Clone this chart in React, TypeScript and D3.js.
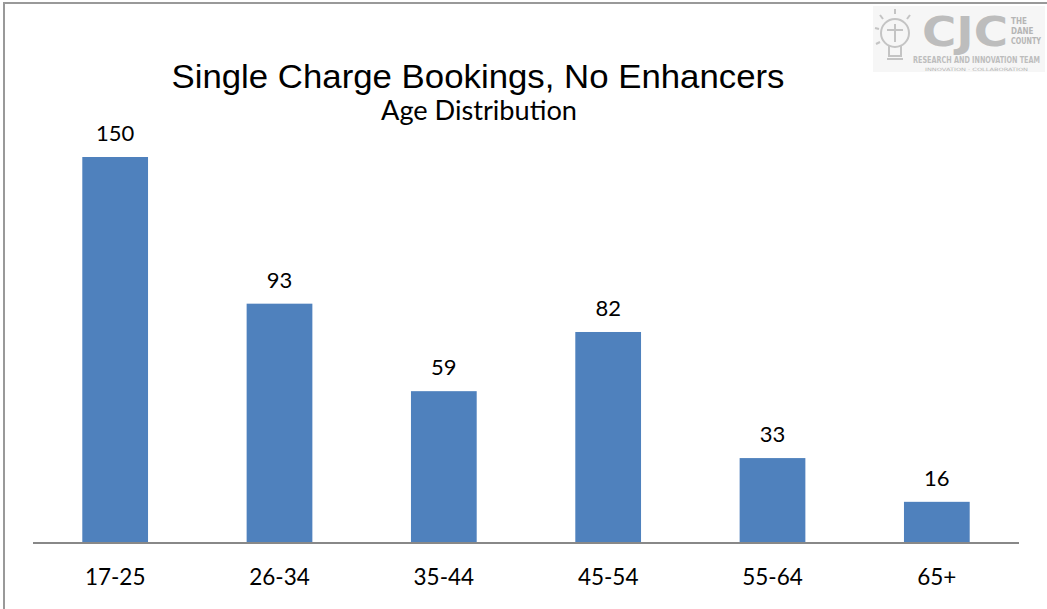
import React from "react";
import * as d3 from "d3";

const categories = ["17-25", "26-34", "35-44", "45-54", "55-64", "65+"];
const values = [150, 93, 59, 82, 33, 16];
const titleText = "Single Charge Bookings, No Enhancers";
const subtitleText = "Age Distribution";

export default function App() {
  const W = 1047, H = 609;
  const x = d3.scaleBand<string>().domain(categories).range([33, 1019]).paddingInner(0.6).paddingOuter(0.3);
  const y = d3.scaleLinear().domain([0, 150]).range([543, 157]);
  const font = "Lato, 'Open Sans', sans-serif";
  const cond = "'DejaVu Sans Condensed', 'Liberation Sans Narrow', sans-serif";
  return (
    <svg width={W} height={H} style={{ position: "absolute", left: 0, top: 0, background: "#fff" }}>
      <rect x={4} y={3} width={W + 10} height={H + 10} fill="#fff" stroke="#999" strokeWidth={2} />
      {/* logo */}
      <g>
        <rect x={873} y={6} width={172} height={66} fill="#f6f6f6" />
        <g stroke="#c4c4c4" strokeWidth={2} fill="none">
          <circle cx={895} cy={33} r={14} />
          <path d="M889,46 L889,56 L901,56 L901,46" />
          <line x1={887} y1={59} x2={903} y2={59} />
          <line x1={895} y1={9} x2={895} y2={14} />
          <line x1={880} y1={15} x2={883} y2={19} />
          <line x1={910} y1={15} x2={907} y2={19} />
          <line x1={875} y1={28} x2={879} y2={29} />
          <line x1={876} y1={44} x2={880} y2={42} />
          <line x1={887} y1={30} x2={903} y2={30} />
          <line x1={895} y1={24} x2={895} y2={42} />
        </g>
        <text x={922} y={46} fontFamily={cond} fontWeight="bold" fontSize={40} fill="#bdbdbd" textLength={86} lengthAdjust="spacingAndGlyphs">CJC</text>
        <text x={1011} y={24} fontFamily={cond} fontWeight="bold" fontSize={8} fill="#b5b5b5">THE</text>
        <text x={1011} y={34} fontFamily={cond} fontWeight="bold" fontSize={8} fill="#b5b5b5">DANE</text>
        <text x={1011} y={44} fontFamily={cond} fontWeight="bold" fontSize={8} fill="#b5b5b5" textLength={30} lengthAdjust="spacingAndGlyphs">COUNTY</text>
        <text transform="translate(913,63) scale(1,1.3)" fontFamily={cond} fontWeight="bold" fontSize={7.3} fill="#bdbdbd" textLength={127} lengthAdjust="spacingAndGlyphs">RESEARCH AND INNOVATION TEAM</text>
        <text x={925} y={71} fontFamily="'DejaVu Sans', sans-serif" fontSize={4.5} fill="#b5b5b5" textLength={103} lengthAdjust="spacingAndGlyphs">INNOVATION · COLLABORATION</text>
      </g>
      <text x={478} y={88} textAnchor="middle" fontFamily="'Liberation Sans', Arial, sans-serif" fontSize={33} fill="#000" textLength={613} lengthAdjust="spacingAndGlyphs">{titleText}</text>
      <text x={479} y={120} textAnchor="middle" fontFamily={font} fontSize={26} fill="#000" textLength={196} lengthAdjust="spacingAndGlyphs">{subtitleText}</text>
      {categories.map((c, i) => (
        <g key={c}>
          <rect x={x(c)} y={y(values[i])} width={x.bandwidth()} height={y(0) - y(values[i])} fill="#4f81bd" />
          <text x={x(c)! + x.bandwidth() / 2} y={y(values[i]) - 16} textAnchor="middle" fontFamily={font} fontSize={22} fill="#000">{values[i]}</text>
          <text x={x(c)! + x.bandwidth() / 2} y={585} textAnchor="middle" fontFamily={font} fontSize={22.5} fill="#000">{c}</text>
        </g>
      ))}
      <line x1={33} x2={1019} y1={y(0)} y2={y(0)} stroke="#888" strokeWidth={2} />
    </svg>
  );
}
